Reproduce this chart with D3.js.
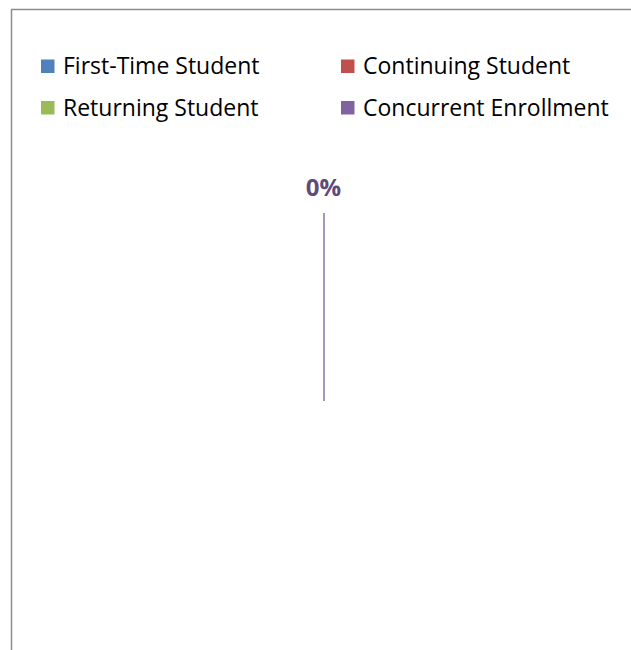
<!DOCTYPE html>
<html>
<head>
<meta charset="utf-8">
<script src="https://cdn.jsdelivr.net/npm/d3@7"></script>
<style>
  body { margin: 0; background: #fff; }
  text { font-family: "Open Sans", "Noto Sans", sans-serif; }
</style>
</head>
<body>
<svg class="chart"></svg>
<script>
const categories = ["First-Time Student", "Continuing Student", "Returning Student", "Concurrent Enrollment"];
const values = [0, 0, 0, 0];
const colors = ["#4f81bd", "#c0504d", "#9bbb59", "#8064a2"];
const labelIndex = 3;

const width = 631, height = 650;
const svg = d3.select(".chart").attr("width", width).attr("height", height);

// chart area border (runs off the right and bottom edges)
svg.append("rect")
    .attr("x", 11.5).attr("y", 9.5)
    .attr("width", 700).attr("height", 700)
    .attr("fill", "none")
    .attr("stroke", "#8c8c8c")
    .attr("stroke-width", 1.5);

// legend
const legend = svg.append("g");
categories.forEach((key, i) =>
{
    const row = legend.append("g")
        .attr("transform", `translate(${i % 2 ? 341 : 41},${Math.floor(i / 2) * 41.5 + 59.5})`);
    row.append("rect").attr("width", 13.5).attr("height", 13.5).attr("fill", colors[i]);
    row.append("text")
        .attr("x", 22).attr("y", 14.5)
        .style("font-size", "23px")
        .attr("fill", "#000")
        .text(key);
});

// pie
const cx = 324, cy = 401, r = 188;
const pie = d3.pie().sort(null).value(d => d);
const arcs = pie(values);
const arc = d3.arc().innerRadius(0).outerRadius(r);

const g = svg.append("g").attr("transform", `translate(${cx},${cy})`);
g.selectAll(".slice")
    .data(arcs)
    .enter()
    .append("path")
    .attr("class", "slice")
    .attr("d", arc)
    .attr("fill", (d, i) => colors[i]);

// zero-size slices collapse to a radius line
const a = arcs[labelIndex];
const [ex, ey] = d3.pointRadial(a.startAngle, r);
g.append("line")
    .attr("x1", 0).attr("y1", 0)
    .attr("x2", ex).attr("y2", ey)
    .attr("stroke", "#8a72aa")
    .attr("stroke-width", 1.5);

const total = d3.sum(values);
const [lx, ly] = d3.pointRadial(a.startAngle, r + 17);
g.append("text")
    .attr("x", lx - 0.5).attr("y", ly)
    .attr("text-anchor", "middle")
    .style("font-size", "24px")
    .style("font-weight", "bold")
    .attr("fill", "#5f4a7b")
    .text(d3.format(".0%")(total ? a.value / total : 0));
</script>
</body>
</html>
